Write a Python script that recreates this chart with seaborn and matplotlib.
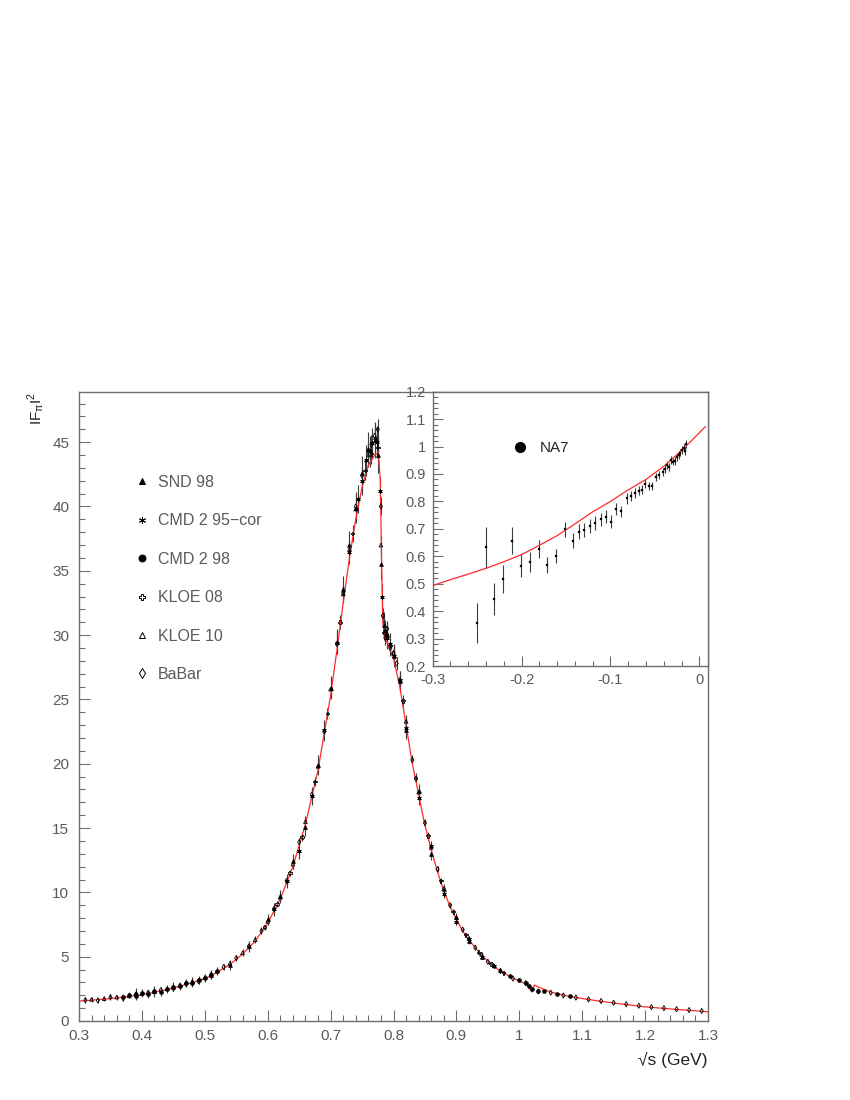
import numpy as np
import matplotlib
matplotlib.use("Agg")
import matplotlib.pyplot as plt
from matplotlib.lines import Line2D
from matplotlib.ticker import MultipleLocator, FuncFormatter
import seaborn as sns

# ---------------- data ----------------
# model curve (main panel)
curve_s = [0.30, 0.32, 0.34, 0.36, 0.38, 0.40, 0.42, 0.44, 0.46, 0.48, 0.50, 0.52, 0.54, 0.56,
           0.58, 0.60, 0.62, 0.64, 0.66, 0.68, 0.70, 0.71, 0.72, 0.73, 0.74, 0.75, 0.76, 0.77,
           0.776, 0.779, 0.781, 0.783, 0.786, 0.79, 0.80, 0.81, 0.82, 0.83, 0.84, 0.85, 0.86,
           0.87, 0.88, 0.89, 0.90, 0.91, 0.92, 0.94, 0.96, 0.98, 1.00, 1.012, 1.018, 1.020,
           1.024, 1.03, 1.05, 1.08, 1.10, 1.12, 1.15, 1.20, 1.25, 1.30]
curve_f = [1.55, 1.62, 1.70, 1.80, 1.92, 2.05, 2.23, 2.45, 2.70, 2.98, 3.30, 3.80, 4.40, 5.20,
           6.20, 7.60, 9.50, 12.0, 15.3, 19.5, 25.3, 28.8, 32.5, 36.0, 39.0, 41.5, 43.2, 44.0,
           44.2, 42.0, 36.0, 31.0, 29.8, 29.4, 28.2, 26.0, 23.0, 20.0, 17.6, 15.2, 13.3,
           11.6, 10.1, 8.9, 7.9, 7.0, 6.3, 5.1, 4.2, 3.6, 3.1, 2.85, 2.40, 2.25,
           2.80, 2.65, 2.25, 1.90, 1.75, 1.60, 1.40, 1.10, 0.90, 0.72]

snd_s = [0.39, 0.42, 0.45, 0.48, 0.51, 0.54, 0.57, 0.60, 0.62, 0.64, 0.66, 0.68, 0.70, 0.71,
         0.72, 0.73, 0.74, 0.75, 0.76, 0.77, 0.775, 0.78, 0.785, 0.79, 0.80, 0.81, 0.82, 0.84,
         0.86, 0.88, 0.90, 0.92, 0.94, 0.97]
snd_f = [2.15, 2.30, 2.66, 3.10, 3.60, 4.35, 5.80, 7.9, 9.7, 12.4, 15.1, 19.9, 25.9, 29.5,
         33.6, 37.0, 39.9, 42.6, 44.5, 45.2, 44.0, 35.5, 30.8, 30.1, 28.4, 26.4, 22.6, 17.9,
         13.0, 10.3, 8.1, 6.2, 5.0, 3.95]
snd_e = [0.45, 0.4, 0.35, 0.35, 0.35, 0.35, 0.4, 0.45, 0.5, 0.6, 0.7, 0.8, 0.9, 1.0,
         1.0, 1.1, 1.2, 1.3, 1.3, 1.4, 1.4, 1.2, 1.0, 1.0, 0.9, 0.8, 0.7, 0.55,
         0.45, 0.35, 0.3, 0.25, 0.2, 0.18]

cmd95_s = [0.61, 0.63, 0.65, 0.67, 0.69, 0.71, 0.73, 0.744, 0.75, 0.756, 0.762, 0.766, 0.770,
           0.774, 0.778, 0.782, 0.786, 0.790, 0.794, 0.80, 0.81, 0.82, 0.84, 0.86, 0.88, 0.90,
           0.92, 0.94, 0.96]
cmd95_f = [8.7, 10.9, 13.2, 17.5, 22.6, 29.4, 36.5, 40.6, 42.0, 43.6, 44.3, 44.9, 45.3,
           45.0, 41.2, 33.0, 30.3, 29.8, 29.3, 28.4, 26.5, 22.8, 17.3, 13.6, 9.9, 7.7,
           6.4, 5.0, 4.3]
cmd95_e = [0.5, 0.55, 0.6, 0.7, 0.8, 0.9, 1.0, 1.1, 1.1, 1.2, 1.2, 1.2, 1.2,
           1.2, 1.1, 1.0, 0.9, 0.9, 0.9, 0.8, 0.7, 0.65, 0.5, 0.4, 0.3, 0.25,
           0.2, 0.18, 0.15]

cmd98_s = [0.37, 0.38, 0.39, 0.40, 0.41, 0.42, 0.43, 0.44, 0.45, 0.46, 0.47, 0.48, 0.49, 0.50,
           0.51, 0.52, 0.985, 1.00, 1.01, 1.015, 1.02, 1.03, 1.04, 1.06, 1.08]
cmd98_f = [1.83, 2.00, 1.95, 2.18, 2.08, 2.35, 2.28, 2.50, 2.62, 2.70, 2.95, 2.92, 3.20, 3.36,
           3.55, 3.90, 3.50, 3.15, 2.95, 2.70, 2.45, 2.35, 2.30, 2.10, 1.92]
cmd98_e = [0.25, 0.25, 0.28, 0.28, 0.28, 0.3, 0.3, 0.3, 0.3, 0.3, 0.3, 0.3, 0.3, 0.3,
           0.3, 0.3, 0.10, 0.09, 0.09, 0.10, 0.10, 0.08, 0.08, 0.07, 0.06]

kloe08_s = [0.595, 0.615, 0.635, 0.655, 0.675, 0.695, 0.715, 0.735, 0.755, 0.765, 0.775,
            0.785, 0.795, 0.815, 0.835, 0.855, 0.875, 0.895, 0.915, 0.935, 0.955, 0.975]
kloe08_f = [7.3, 9.1, 11.5, 14.3, 18.6, 23.9, 31.0, 37.9, 42.8, 44.1, 44.6,
            30.2, 29.2, 24.9, 18.9, 14.4, 10.9, 8.5, 6.7, 5.35, 4.45, 3.75]
kloe08_e = [0.2, 0.22, 0.25, 0.3, 0.35, 0.45, 0.55, 0.65, 0.75, 0.8, 0.8,
            0.6, 0.55, 0.45, 0.35, 0.3, 0.22, 0.18, 0.14, 0.12, 0.1, 0.09]

kloe10_s = [0.32, 0.34, 0.36, 0.38, 0.40, 0.42, 0.44, 0.46, 0.48, 0.50, 0.52, 0.54, 0.56,
            0.58, 0.60, 0.62, 0.64, 0.66, 0.68, 0.70, 0.72, 0.74, 0.76, 0.78, 0.80, 0.82,
            0.84, 0.86, 0.88, 0.90, 0.92, 0.94, 0.96]
kloe10_f = [1.68, 1.74, 1.86, 1.95, 2.12, 2.28, 2.50, 2.78, 3.05, 3.38, 3.86, 4.48, 5.30,
            6.32, 7.75, 9.62, 12.2, 15.5, 19.8, 25.8, 33.2, 39.8, 44.0, 37.0, 28.6, 23.3,
            17.8, 13.5, 10.3, 8.05, 6.42, 5.20, 4.28]
kloe10_e = [0.2, 0.2, 0.2, 0.2, 0.2, 0.2, 0.2, 0.2, 0.2, 0.2, 0.22, 0.24, 0.26,
            0.28, 0.3, 0.34, 0.4, 0.45, 0.5, 0.6, 0.7, 0.8, 0.9, 0.8, 0.6, 0.5,
            0.4, 0.32, 0.26, 0.2, 0.16, 0.13, 0.11]

babar_s = [0.31, 0.33, 0.35, 0.37, 0.39, 0.41, 0.43, 0.45, 0.47, 0.49, 0.51, 0.53, 0.55, 0.57,
           0.59, 0.61, 0.63, 0.65, 0.67, 0.69, 0.71, 0.72, 0.73, 0.74, 0.75, 0.76, 0.765, 0.77,
           0.775, 0.78, 0.783, 0.787, 0.79, 0.795, 0.80, 0.805, 0.81, 0.83, 0.85, 0.87, 0.89,
           0.91, 0.93, 0.95, 0.97, 0.99, 1.01, 1.03, 1.05, 1.07, 1.09, 1.11, 1.13, 1.15, 1.17,
           1.19, 1.21, 1.23, 1.25, 1.27, 1.29]
babar_f = [1.62, 1.60, 1.85, 1.78, 2.05, 2.20, 2.40, 2.55, 2.90, 3.10, 3.60, 4.20, 4.90, 5.80,
           7.00, 8.70, 10.9, 13.9, 17.6, 22.5, 29.3, 33.3, 36.6, 40.0, 42.4, 44.3, 44.8, 45.5,
           46.0, 40.0, 31.5, 29.8, 30.5, 29.0, 28.6, 27.8, 26.5, 20.3, 15.4, 11.8, 9.0,
           7.1, 5.7, 4.6, 3.9, 3.3, 2.95, 2.30, 2.20, 1.98, 1.82, 1.68, 1.55, 1.42, 1.30,
           1.19, 1.08, 1.00, 0.92, 0.85, 0.78]
babar_e = [0.22, 0.22, 0.22, 0.22, 0.22, 0.22, 0.22, 0.22, 0.22, 0.22, 0.22, 0.22, 0.24, 0.25,
           0.27, 0.3, 0.33, 0.36, 0.4, 0.45, 0.5, 0.55, 0.6, 0.65, 0.7, 0.7, 0.75, 0.75,
           0.8, 0.7, 0.6, 0.55, 0.55, 0.5, 0.5, 0.5, 0.45, 0.35, 0.28, 0.22, 0.18,
           0.14, 0.12, 0.1, 0.08, 0.07, 0.06, 0.05, 0.05, 0.04, 0.04, 0.035, 0.035, 0.03, 0.03,
           0.03, 0.025, 0.025, 0.02, 0.02, 0.02]

# inset: spacelike NA7 data and curve
na7_t = [-0.2498, -0.240, -0.2307, -0.2205, -0.2104, -0.2006, -0.1905, -0.1807, -0.171, -0.1609,
         -0.1511, -0.1418, -0.1354, -0.1294, -0.123, -0.117, -0.111, -0.1053, -0.0997, -0.0937,
         -0.0878, -0.0817, -0.0772, -0.0727, -0.0682, -0.0645, -0.0608, -0.0566, -0.0532,
         -0.0491, -0.045, -0.0412, -0.0386, -0.0364, -0.0345, -0.0322, -0.030, -0.0277,
         -0.0255, -0.0232, -0.0214, -0.0195, -0.0177, -0.0166, -0.015]
na7_f = [0.356, 0.633, 0.444, 0.517, 0.657, 0.565, 0.580, 0.627, 0.568, 0.601,
         0.698, 0.657, 0.689, 0.695, 0.710, 0.722, 0.735, 0.744, 0.726, 0.773,
         0.764, 0.811, 0.821, 0.831, 0.839, 0.843, 0.865, 0.856, 0.856,
         0.888, 0.895, 0.907, 0.917, 0.934, 0.925, 0.951, 0.945, 0.948,
         0.961, 0.969, 0.978, 0.988, 0.995, 0.985, 1.009]
na7_e = [0.073, 0.075, 0.058, 0.050, 0.050, 0.042, 0.036, 0.033, 0.030, 0.027,
         0.027, 0.027, 0.027, 0.026, 0.026, 0.025, 0.024, 0.024, 0.024, 0.021,
         0.021, 0.019, 0.018, 0.018, 0.017, 0.017, 0.016, 0.016, 0.016,
         0.015, 0.015, 0.015, 0.015, 0.015, 0.015, 0.014, 0.014, 0.014,
         0.014, 0.014, 0.014, 0.014, 0.014, 0.014, 0.014]
icurve_t = [-0.30, -0.28, -0.26, -0.24, -0.22, -0.20, -0.18, -0.16, -0.14, -0.12, -0.10,
            -0.08, -0.06, -0.04, -0.02, 0.00, 0.007]
icurve_f = [0.493, 0.515, 0.535, 0.556, 0.580, 0.606, 0.640, 0.675, 0.718, 0.762, 0.800,
            0.842, 0.880, 0.928, 0.985, 1.050, 1.073]

main_xticks = [0.3, 0.4, 0.5, 0.6, 0.7, 0.8, 0.9, 1.0, 1.1, 1.2, 1.3]
main_yticks = [0, 5, 10, 15, 20, 25, 30, 35, 40, 45]

datasets = [
    ("SND 98", snd_s, snd_f, snd_e, dict(marker="^", fill=True)),
    ("CMD 2 95\u2212cor", cmd95_s, cmd95_f, cmd95_e, dict(marker=(6, 2, 0), fill=True)),
    ("CMD 2 98", cmd98_s, cmd98_f, cmd98_e, dict(marker="o", fill=True)),
    ("KLOE 08", kloe08_s, kloe08_f, kloe08_e, dict(marker="P", fill=False)),
    ("KLOE 10", kloe10_s, kloe10_f, kloe10_e, dict(marker="^", fill=False)),
    ("BaBar", babar_s, babar_f, babar_e, dict(marker="d", fill=False)),
]

# ---------------- style ----------------
sns.set_style("ticks")
plt.rcParams["font.family"] = ["Liberation Sans", "DejaVu Sans"]
plt.rcParams["axes.unicode_minus"] = True

GRAY = "#6e6e6e"
TXT = "#5a5a5a"

fig = plt.figure(figsize=(8.5, 11), dpi=100)
W, H = 850.0, 1100.0
ax = fig.add_axes([79 / W, 1 - 1021 / H, 629 / W, 629 / H])

# red model curve
sns.lineplot(x=curve_s, y=curve_f, ax=ax, color="#ff2a2a", lw=0.9, sort=False,
             estimator=None, zorder=3)

handles = []
for name, xs, ys, es, st in datasets:
    ax.errorbar(xs, ys, yerr=es, fmt="none", ecolor="#3c3c3c", elinewidth=0.8,
                capsize=0, zorder=2)
    fc = "black" if st["fill"] else "none"
    sns.scatterplot(x=xs, y=ys, ax=ax, marker=st["marker"], s=7, color="black",
                    facecolors=fc, edgecolor="black", linewidth=0.6, legend=False, zorder=4)
    handles.append(Line2D([], [], linestyle="none", marker=st["marker"], markersize=5,
                          markerfacecolor=("black" if st["fill"] else "none"),
                          markeredgecolor="black", markeredgewidth=0.7, label=name))

ax.set_xlim(0.3, 1.3)
ax.set_ylim(0, 48.9)
ax.set_xticks(main_xticks)
ax.set_yticks(main_yticks)
ax.xaxis.set_minor_locator(MultipleLocator(0.02))
ax.yaxis.set_minor_locator(MultipleLocator(1))
fmt = FuncFormatter(lambda v, p: "%g" % round(v, 3))
ax.xaxis.set_major_formatter(fmt)
ax.yaxis.set_major_formatter(fmt)
ax.tick_params(which="both", direction="in", top=False, right=False, color=GRAY,
               labelcolor=TXT, labelsize=11, width=0.8)
ax.tick_params(which="major", length=8)
ax.tick_params(which="minor", length=4.5)
ax.tick_params(axis="y", pad=7)
ax.tick_params(axis="x", pad=6)
for sp in ax.spines.values():
    sp.set_color(GRAY)
    sp.set_linewidth(1.0)

ax.set_xlabel("\u221As (GeV)", loc="right", fontsize=12.5, color="#222222", labelpad=6)
ax.set_ylabel(r"I$\mathregular{F_{\pi}}$I$^{\mathregular{2}}$", loc="top", fontsize=11,
              color="#222222", labelpad=4)

leg = ax.legend(handles=handles, loc="upper left", bbox_to_anchor=(0.0898, 0.868),
                frameon=False, fontsize=11.5, handlelength=0.8, handletextpad=0.6,
                borderpad=0, borderaxespad=0, labelspacing=1.465)
for t in leg.get_texts():
    t.set_color(TXT)

# ---------------- inset ----------------
ins = fig.add_axes([432.7 / W, 1 - 666 / H, 275.3 / W, 274.3 / H])
ins.set_facecolor("white")
sns.lineplot(x=icurve_t, y=icurve_f, ax=ins, color="#ff2a2a", lw=0.9, sort=False,
             estimator=None, zorder=3)
ins.errorbar(na7_t, na7_f, yerr=na7_e, fmt="none", ecolor="#3c3c3c", elinewidth=0.8,
             capsize=0, zorder=2)
sns.scatterplot(x=na7_t, y=na7_f, ax=ins, marker="s", s=3, color="black",
                edgecolor="black", linewidth=0.2, legend=False, zorder=4)
ins.set_xlim(-0.3, 0.0098)
ins.set_ylim(0.2, 1.2)
ins.xaxis.set_major_locator(MultipleLocator(0.1))
ins.xaxis.set_minor_locator(MultipleLocator(0.02))
ins.yaxis.set_major_locator(MultipleLocator(0.1))
ins.yaxis.set_minor_locator(MultipleLocator(0.02))
ins.xaxis.set_major_formatter(fmt)
ins.yaxis.set_major_formatter(fmt)
ins.tick_params(which="both", direction="in", top=False, right=False, color=GRAY,
                labelcolor=TXT, labelsize=10.5, width=0.8)
ins.tick_params(which="major", length=7)
ins.tick_params(which="minor", length=3.5)
ins.tick_params(axis="y", pad=5)
ins.tick_params(axis="x", pad=5)
for sp in ins.spines.values():
    sp.set_color(GRAY)
    sp.set_linewidth(1.0)
ins.set_xlabel("")
ins.set_ylabel("")

na7_handle = [Line2D([], [], linestyle="none", marker="o", markersize=7,
                     markerfacecolor="black", markeredgecolor="black", label="NA7")]
ileg = ins.legend(handles=na7_handle, loc="upper left", bbox_to_anchor=(0.295, 0.819),
                  frameon=False, fontsize=11, handlelength=0.8, handletextpad=0.9,
                  borderpad=0, borderaxespad=0)

fig.savefig("out.png", dpi=100)
